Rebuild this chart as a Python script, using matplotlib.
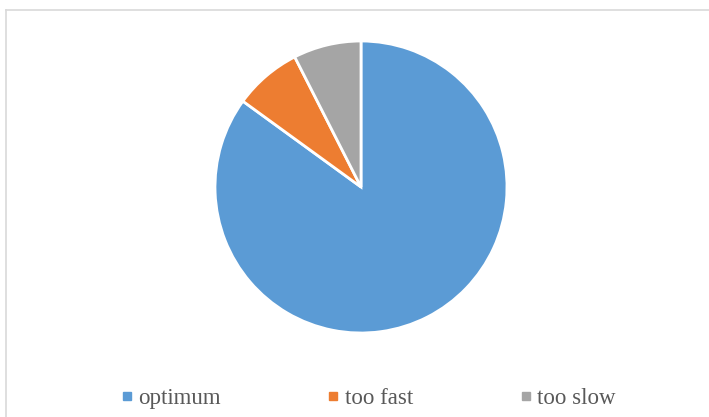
import matplotlib.pyplot as plt
from matplotlib.lines import Line2D

labels = ['optimum', 'too fast', 'too slow']
values = [34, 3, 3]
colors = ['#5B9BD5', '#ED7D31', '#A5A5A5']

plt.rcParams['font.family'] = ['Liberation Serif', 'DejaVu Serif']

fig = plt.figure(figsize=(7.09, 4.17), dpi=100)

# chart area border (light gray, open on right/bottom)
fig.add_artist(Line2D([6/709, 6/709], [0, 1 - 10/417], transform=fig.transFigure,
                      color='#D9D9D9', linewidth=1.2))
fig.add_artist(Line2D([6/709, 1], [1 - 10/417, 1 - 10/417], transform=fig.transFigure,
                      color='#D9D9D9', linewidth=1.2))

# pie axes: center (361,187), radius ~146 px
r = 146
ax = fig.add_axes([(361 - r) / 709, 1 - (187 + r) / 417, 2 * r / 709, 2 * r / 417])
ax.pie(values, colors=colors, startangle=90, counterclock=False,
       wedgeprops=dict(edgecolor='white', linewidth=2))
ax.set_xlim(-1, 1)
ax.set_ylim(-1, 1)
ax.set_aspect('equal')
ax.axis('off')

handles = [Line2D([], [], marker='s', linestyle='', markersize=6,
                  markerfacecolor=c, markeredgecolor=c) for c in colors]
fig.legend(handles, labels, loc='center', bbox_to_anchor=(369/709, 1 - 398/417),
           ncol=3, frameon=False, fontsize=16.5, handlelength=0.4, handletextpad=0.3,
           columnspacing=4.7, labelcolor='#595959')

plt.savefig('out.png', dpi=100)
